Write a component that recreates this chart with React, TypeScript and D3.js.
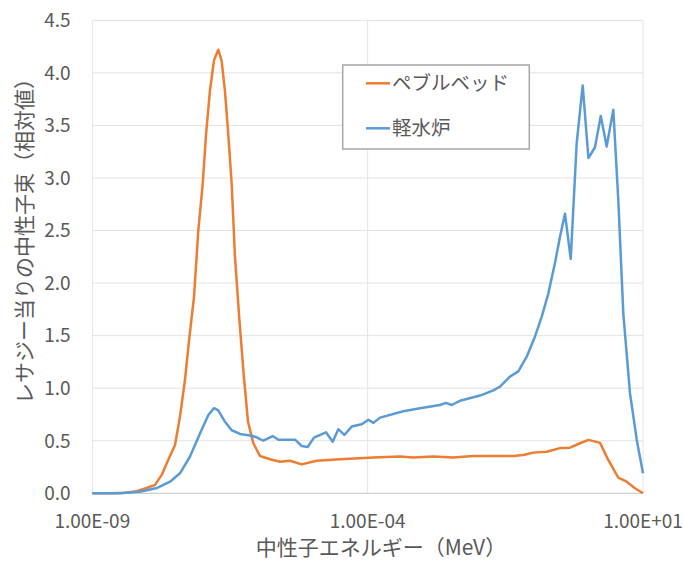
import React from "react";
import * as d3 from "d3";

// Neutron energy (MeV) and relative flux per lethargy — pebble-bed reactor
const pebbleEnergy = [
  1.0e-9, 2.1e-9, 3.9e-9, 6.4e-9, 9.7e-9, 1.38e-8, 1.82e-8, 2.4e-8, 3.18e-8, 3.91e-8,
  4.82e-8, 5.7e-8, 7.03e-8, 8.41e-8, 1.01e-7, 1.16e-7, 1.37e-7, 1.62e-7, 1.94e-7, 2.24e-7,
  2.57e-7, 2.95e-7, 3.4e-7, 3.9e-7, 4.61e-7, 5.57e-7, 6.72e-7, 8.39e-7, 1.11e-6, 1.69e-6,
  2.56e-6, 3.89e-6, 6.35e-6, 1.19e-5, 3.15e-5, 1.27e-4, 3.87e-4, 6.75e-4, 1.56e-3, 3.59e-3,
  8.29e-3, 2.53e-2, 4.41e-2, 6.71e-2, 0.102, 0.178, 0.311, 0.472, 0.718, 1.02,
  1.66, 2.34, 3.56, 5.06, 7.16, 10,
];
const pebbleFlux = [
  0, 0, 0.005, 0.02, 0.05, 0.08, 0.175, 0.32, 0.46, 0.73,
  1.08, 1.45, 1.87, 2.5, 2.94, 3.41, 3.83, 4.12, 4.22, 4.11,
  3.82, 3.41, 2.94, 2.25, 1.7, 1.15, 0.68, 0.476, 0.355, 0.324,
  0.3, 0.31, 0.275, 0.31, 0.325, 0.34, 0.35, 0.34, 0.35, 0.34,
  0.355, 0.355, 0.355, 0.365, 0.387, 0.396, 0.43, 0.434, 0.476, 0.508,
  0.48, 0.317, 0.149, 0.11, 0.048, 0,
];

// Neutron energy (MeV) and relative flux per lethargy — light water reactor
const lwrEnergy = [
  1.0e-9, 3.18e-9, 7.35e-9, 1.48e-8, 2.58e-8, 3.91e-8, 5.94e-8, 9.03e-8, 1.28e-7, 1.62e-7,
  1.94e-7, 2.57e-7, 3.4e-7, 4.81e-7, 7.3e-7, 9.67e-7, 1.27e-6, 1.89e-6, 2.39e-6, 3.89e-6,
  4.8e-6, 6.35e-6, 8.15e-6, 1.06e-5, 1.75e-5, 2.32e-5, 2.93e-5, 3.77e-5, 5.13e-5, 7.8e-5,
  1.03e-4, 1.27e-4, 1.68e-4, 4.44e-4, 8.92e-4, 2.06e-3, 2.65e-3, 3.36e-3, 4.75e-3, 1.1e-2,
  1.91e-2, 2.53e-2, 3.84e-2, 5.44e-2, 7.73e-2, 0.109, 0.145, 0.191, 0.252, 0.311,
  0.383, 0.487, 0.625, 0.804, 1.02, 1.34, 1.71, 2.19, 2.89, 3.56,
  4.39, 5.81, 7.69, 10,
];
const lwrFlux = [
  0, 0, 0.015, 0.05, 0.11, 0.19, 0.35, 0.57, 0.745, 0.81,
  0.79, 0.68, 0.6, 0.565, 0.55, 0.533, 0.5, 0.545, 0.51, 0.51,
  0.51, 0.45, 0.44, 0.53, 0.58, 0.49, 0.61, 0.555, 0.635, 0.657,
  0.7, 0.67, 0.72, 0.78, 0.81, 0.84, 0.86, 0.84, 0.88, 0.93,
  0.98, 1.015, 1.11, 1.16, 1.3, 1.49, 1.68, 1.9, 2.19, 2.44,
  2.66, 2.23, 3.33, 3.88, 3.19, 3.29, 3.59, 3.3, 3.65, 2.79,
  1.71, 0.95, 0.51, 0.19,
];

const seriesNames = ["ペブルベッド", "軽水炉"];
const seriesColors = ["#ED7D31", "#5B9BD5"];
const xTicks = [1e-9, 1e-4, 1e1];
const yTicks = [0, 0.5, 1, 1.5, 2, 2.5, 3, 3.5, 4, 4.5];
const xTitle = "中性子エネルギー（MeV）";
const yTitle = "レサジー当りの中性子束（相対値）";

const W = 684;
const H = 561;
const plot = { left: 92.3, right: 643, top: 20.3, bottom: 493.3 };
const FONT = "'Noto Sans CJK JP', 'Noto Sans', sans-serif";
const TEXT = "#595959";
const GRID = "#E3E3E3";

const fmtSci = (v: number) => {
  const [m, e] = v.toExponential(2).split("e");
  const n = parseInt(e, 10);
  return `${m}E${n < 0 ? "-" : "+"}${String(Math.abs(n)).padStart(2, "0")}`;
};

export default function App() {
  const x = d3.scaleLog().domain([1e-9, 1e1]).range([plot.left, plot.right]);
  const y = d3.scaleLinear().domain([0, 4.5]).range([plot.bottom, plot.top]);

  const line = d3
    .line<[number, number]>()
    .x((d) => x(d[0]))
    .y((d) => y(d[1]));

  const pebble = pebbleEnergy.map((e, i) => [e, pebbleFlux[i]] as [number, number]);
  const lwr = lwrEnergy.map((e, i) => [e, lwrFlux[i]] as [number, number]);

  const legend = { x: 342.7, y: 65, w: 186.6, h: 84 };
  const legendRows = [83.3, 128.3];

  return (
    <svg
      width={W}
      height={H}
      style={{ position: "absolute", left: 0, top: 0, background: "#fff" }}
      fontFamily={FONT}
    >
      <rect width={W} height={H} fill="#fff" />

      {/* horizontal gridlines */}
      {yTicks.slice(1).map((t) => (
        <line key={`gy${t}`} x1={plot.left} x2={plot.right} y1={y(t)} y2={y(t)} stroke={GRID} strokeWidth={1} />
      ))}
      {/* vertical gridlines at the labelled decades */}
      {xTicks.map((t) => (
        <line key={`gx${t}`} x1={x(t)} x2={x(t)} y1={plot.top} y2={plot.bottom} stroke={GRID} strokeWidth={1} />
      ))}
      {/* category axis line */}
      <line x1={plot.left} x2={plot.right} y1={plot.bottom} y2={plot.bottom} stroke="#D0D0D0" strokeWidth={1.2} />

      {/* y tick labels */}
      {yTicks.map((t) => (
        <text
          key={`ty${t}`}
          x={70.5}
          y={y(t)}
          dy="0.36em"
          textAnchor="end"
          fontSize={19}
          fill={TEXT}
        >
          {d3.format(".1f")(t)}
        </text>
      ))}
      {/* x tick labels */}
      {xTicks.map((t) => (
        <text key={`tx${t}`} x={x(t)} y={521} dy="0.36em" textAnchor="middle" fontSize={19} fill={TEXT}>
          {fmtSci(t)}
        </text>
      ))}

      {/* axis titles */}
      <text x={381} y={547} dy="0.36em" textAnchor="middle" fontSize={21} fill={TEXT}>
        {xTitle}
      </text>
      <text
        transform={`translate(24.5,236) rotate(-90)`}
        dy="0.36em"
        textAnchor="middle"
        fontSize={21}
        fill={TEXT}
      >
        {yTitle}
      </text>

      {/* series */}
      <path d={line(pebble) ?? ""} fill="none" stroke={seriesColors[0]} strokeWidth={2.5} strokeLinejoin="round" />
      <path d={line(lwr) ?? ""} fill="none" stroke={seriesColors[1]} strokeWidth={2.5} strokeLinejoin="round" />

      {/* legend */}
      <rect
        x={legend.x}
        y={legend.y}
        width={legend.w}
        height={legend.h}
        fill="#fff"
        stroke="#A6A6A6"
        strokeWidth={1.5}
      />
      {seriesNames.map((name, i) => (
        <g key={name}>
          <line
            x1={366}
            x2={390}
            y1={legendRows[i]}
            y2={legendRows[i]}
            stroke={seriesColors[i]}
            strokeWidth={2.5}
          />
          <text x={392} y={legendRows[i]} dy="0.36em" fontSize={19.5} fill={TEXT}>
            {name}
          </text>
        </g>
      ))}
    </svg>
  );
}
